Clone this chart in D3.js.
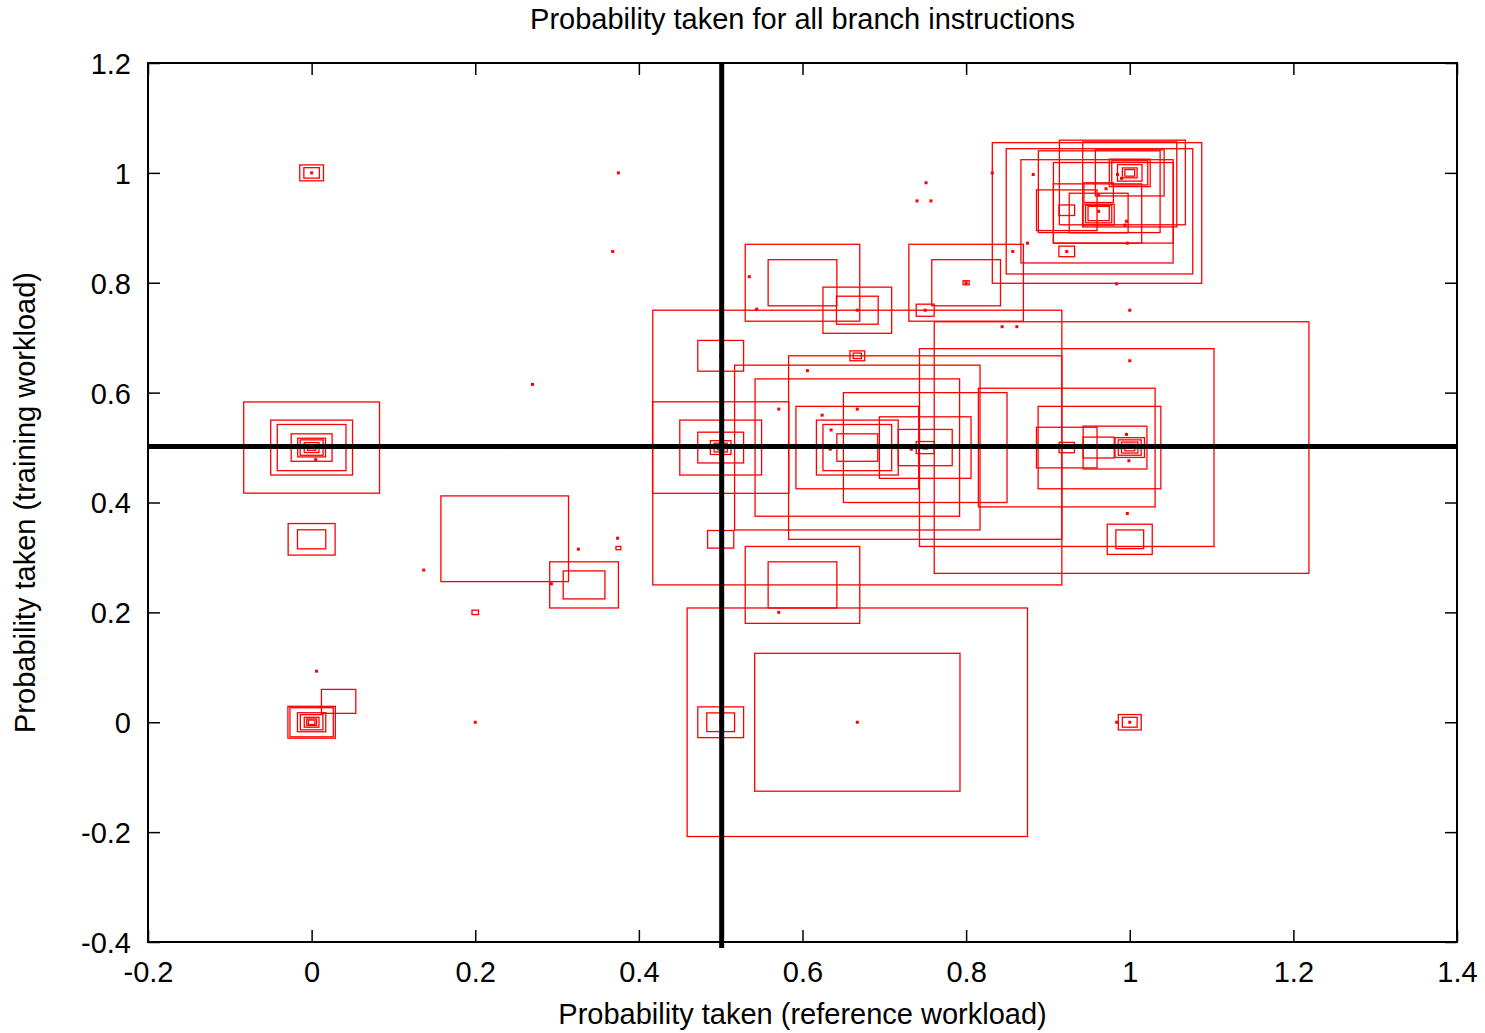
<!DOCTYPE html>
<html>
<head>
<meta charset="utf-8">
<script src="https://cdn.jsdelivr.net/npm/d3@7"></script>
<style>
  html, body { margin: 0; padding: 0; background: #fff; }
  svg { display: block; }
  text { font-family: "Liberation Sans", Arial, sans-serif; fill: #000; }
</style>
</head>
<body>
<svg id="chart" width="1485" height="1033"></svg>
<script>
// ---------------- DATA ----------------
const title = "Probability taken for all branch instructions";
const xLabel = "Probability taken (reference workload)";
const yLabel = "Probability taken (training workload)";
const xTicks = [-0.2, 0, 0.2, 0.4, 0.6, 0.8, 1, 1.2, 1.4];
const yTicks = [-0.4, -0.2, 0, 0.2, 0.4, 0.6, 0.8, 1, 1.2];
const refLines = [0.5]; // thick reference lines at x=0.5 and y=0.5

// boxes: centre x, centre y, half-width dx, half-height dy
const boxX = [
  0, 0, 0, 0, 0, 0, 0, 0, 0, 0, 0, 0,
  0, 0, 0, 0, 0, 0, 0, 0.033, 0.2, 0.236, 0.333, 0.333, 0.375,
  0.5, 0.5, 0.5, 0.5, 0.5, 0.5, 0.5, 0.5, 0.5, 0.5,
  0.667, 0.667, 0.667, 0.667, 0.667, 0.667, 0.667, 0.667, 0.667, 0.667, 0.667,
  0.6, 0.6, 0.667, 0.667, 0.6, 0.6,
  0.75, 0.75, 0.75, 0.75, 0.75, 0.75, 0.75, 0.8, 0.8, 0.8,
  0.923, 0.99, 0.923, 0.963, 0.923, 0.982, 0.962, 0.923, 1, 1, 1, 1, 1, 1, 1, 1,
  0.96, 0.963, 0.96, 0.9606, 0.962, 0.9627, 0.991, 1.0, 0.98, 1, 1, 1, 1, 1, 1,
  0.962, 0.962, 0.962, 0.962, 0.923, 0.923, 0.923
];
const boxY = [
  1, 1, 0.5, 0.5, 0.5, 0.5, 0.5, 0.5, 0.5, 0.5, 0.333, 0.333,
  0, 0, 0, 0, 0, 0, 0, 0.038, 0.2, 0.334, 0.25, 0.25, 0.317,
  0.5, 0.5, 0.5, 0.5, 0.5, 0.5, 0.667, 0.333, 0, 0,
  0.5, 0.5, 0.5, 0.5, 0.5, 0.5, 0.5, 0.667, 0.667, 0, 0,
  0.8, 0.8, 0.75, 0.75, 0.25, 0.25,
  0.5, 0.5, 0.5, 0.5, 0.5, 0.5, 0.75, 0.8, 0.8, 0.8,
  0.5, 0.5, 0.5, 0.5, 0.5, 0.5, 0.5, 0.5, 0.5, 0.5, 0.5, 0.5, 0.333, 0.333, 0, 0,
  0.927, 0.93, 0.93, 0.926, 0.927, 0.9657, 0.9825, 0.979, 0.9455, 1, 1, 1, 1, 1, 1,
  0.964, 0.924, 0.925, 0.926, 0.932, 0.932, 0.857
];
const boxDX = [
  0.0145, 0.0095, 0.083, 0.05, 0.042, 0.025, 0.017, 0.014, 0.009, 0.005, 0.0287, 0.0173,
  0.029, 0.0265, 0.0173, 0.0138, 0.009, 0.006, 0.004, 0.021, 0.004, 0.078, 0.042, 0.0255, 0.003,
  0.0833, 0.05, 0.028, 0.0126, 0.008, 0.004, 0.028, 0.016, 0.028, 0.017,
  0.25, 0.15, 0.125, 0.075, 0.05, 0.042, 0.025, 0.009, 0.005, 0.208, 0.1255,
  0.07, 0.042, 0.042, 0.0255, 0.07, 0.042,
  0.167, 0.1, 0.056, 0.033, 0.011, 0.0025, 0.011, 0.07, 0.042, 0.0037,
  0.18, 0.229, 0.108, 0.075, 0.037, 0.039, 0.019, 0.0094, 0.018, 0.014, 0.01, 0.006, 0.0275, 0.017, 0.014, 0.009,
  0.128, 0.114, 0.093, 0.054, 0.036, 0.0744, 0.077, 0.0575, 0.0733, 0.042, 0.025, 0.022, 0.015, 0.009, 0.006,
  0.018, 0.019, 0.016, 0.013, 0.037, 0.0096, 0.0096
];
const boxDY = [
  0.0145, 0.0095, 0.083, 0.05, 0.042, 0.025, 0.017, 0.014, 0.009, 0.005, 0.0287, 0.0173,
  0.029, 0.0265, 0.0173, 0.0138, 0.009, 0.006, 0.004, 0.0218, 0.004, 0.078, 0.042, 0.0255, 0.003,
  0.0833, 0.05, 0.028, 0.0126, 0.008, 0.004, 0.028, 0.016, 0.028, 0.017,
  0.25, 0.15, 0.125, 0.075, 0.05, 0.042, 0.025, 0.009, 0.005, 0.208, 0.1255,
  0.07, 0.042, 0.042, 0.0255, 0.07, 0.042,
  0.167, 0.1, 0.056, 0.033, 0.011, 0.0025, 0.011, 0.07, 0.042, 0.0037,
  0.18, 0.229, 0.108, 0.075, 0.037, 0.039, 0.019, 0.0094, 0.018, 0.014, 0.01, 0.006, 0.0275, 0.017, 0.014, 0.009,
  0.128, 0.114, 0.094, 0.054, 0.036, 0.0744, 0.077, 0.0774, 0.0733, 0.042, 0.025, 0.022, 0.015, 0.009, 0.006,
  0.018, 0.019, 0.016, 0.013, 0.037, 0.0096, 0.0096
];

// single points (zero-size boxes)
const dotX = [
  0, 0.375, 0.368, 0.27, 0.005, 0.006, 0.2, 0.137, 0.293, 0.326, 0.374,
  0.535, 0.544, 0.606, 0.571, 0.667, 0.624, 0.635, 0.634, 0.733, 0.571, 0.667, 0.5,
  0.667, 0.75, 0.8, 0.996, 0.999, 1.0, 1.0, 0.997, 0.844, 0.862, 0.857, 0.875,
  0.882, 0.971, 0.985, 0.99, 0.994, 0.996, 0.997, 0.923, 0.751, 0.74, 0.757, 0.984,
  0.984, 1, 0.5, 0.667, 0.5, 1, 0.962, 0.243, 0.832, 0.962
];
const dotY = [
  1, 1.0, 0.857, 0.615, 0.478, 0.093, 0, 0.277, 0.252, 0.315, 0.335,
  0.811, 0.752, 0.64, 0.57, 0.57, 0.559, 0.532, 0.497, 0.497, 0.2, 0, 0,
  0.75, 0.75, 0.8, 0.524, 0.476, 0.75, 0.658, 0.38, 0.72, 0.72, 0.857, 0.872,
  0.997, 0.971, 0.997, 0.99, 0.905, 0.912, 0.872, 0.857, 0.982, 0.949, 0.949, 0.798,
  0, 0, 0.667, 0.5, 0.5, 0.5, 0.93, 0.5, 1.0, 0.96
];

// ---------------- DRAW ----------------
const W = 1485, H = 1033;
const L = 148, R = 1457, T = 63, B = 942;
const svg = d3.select("#chart");
const x = d3.scaleLinear().domain([-0.2, 1.4]).range([L, R]);
const y = d3.scaleLinear().domain([-0.4, 1.2]).range([B, T]);
const fmt = d => String(+d.toFixed(1));
const FS = 29;

svg.append("defs").append("clipPath").attr("id", "plotclip")
  .append("rect").attr("x", L).attr("y", T).attr("width", R - L).attr("height", B - T);

const boxes = boxX.map((cx, i) => ({ cx, cy: boxY[i], dx: boxDX[i], dy: boxDY[i] }));
const dots = dotX.map((cx, i) => ({ cx, cy: dotY[i] }));

const plot = svg.append("g").attr("clip-path", "url(#plotclip)");

plot.selectAll("rect.box").data(boxes).join("rect")
  .attr("class", "box")
  .attr("x", d => x(d.cx - d.dx))
  .attr("y", d => y(d.cy + d.dy))
  .attr("width", d => x(d.cx + d.dx) - x(d.cx - d.dx))
  .attr("height", d => y(d.cy - d.dy) - y(d.cy + d.dy))
  .attr("fill", "none")
  .attr("stroke", "#ff0000")
  .attr("stroke-width", 1.3);

plot.selectAll("rect.dot").data(dots).join("rect")
  .attr("class", "dot")
  .attr("x", d => x(d.cx) - 1.5)
  .attr("y", d => y(d.cy) - 1.5)
  .attr("width", 3)
  .attr("height", 3)
  .attr("fill", "#ff0000");

// thick reference lines
refLines.forEach(v => {
  svg.append("line")
    .attr("x1", L).attr("x2", R)
    .attr("y1", y(v) - 1).attr("y2", y(v) - 1)
    .attr("stroke", "#000").attr("stroke-width", 5);
  svg.append("line")
    .attr("x1", x(v) + 1).attr("x2", x(v) + 1)
    .attr("y1", T).attr("y2", B + 6)
    .attr("stroke", "#000").attr("stroke-width", 5);
});

// axes with inward ticks (mirrored)
const tickLen = 12;
const axB = svg.append("g").attr("transform", `translate(0,${B})`)
  .call(d3.axisBottom(x).tickValues(xTicks).tickFormat(fmt).tickSize(-tickLen).tickPadding(0));
const axT = svg.append("g").attr("transform", `translate(0,${T})`)
  .call(d3.axisTop(x).tickValues(xTicks).tickFormat("").tickSize(-tickLen));
const axL = svg.append("g").attr("transform", `translate(${L},0)`)
  .call(d3.axisLeft(y).tickValues(yTicks).tickFormat(fmt).tickSize(-tickLen).tickPadding(0));
const axR = svg.append("g").attr("transform", `translate(${R},0)`)
  .call(d3.axisRight(y).tickValues(yTicks).tickFormat("").tickSize(-tickLen));

[axB, axT, axL, axR].forEach(g => {
  g.select(".domain").remove();
  g.selectAll(".tick line").attr("stroke", "#000").attr("stroke-width", 1.5);
});
axB.selectAll(".tick text")
  .attr("y", 40).attr("dy", null)
  .attr("font-size", FS).attr("font-family", "Liberation Sans, Arial, sans-serif")
  .attr("fill", "#000");
axL.selectAll(".tick text")
  .attr("x", -17).attr("dy", "0.36em")
  .attr("font-size", FS).attr("font-family", "Liberation Sans, Arial, sans-serif")
  .attr("fill", "#000");

// frame
svg.append("rect")
  .attr("x", L).attr("y", T).attr("width", R - L).attr("height", B - T)
  .attr("fill", "none").attr("stroke", "#000").attr("stroke-width", 2);

// titles
svg.append("text").attr("x", (L + R) / 2).attr("y", 29)
  .attr("text-anchor", "middle").attr("font-size", FS).text(title);
svg.append("text").attr("x", (L + R) / 2).attr("y", 1024)
  .attr("text-anchor", "middle").attr("font-size", FS).text(xLabel);
svg.append("text")
  .attr("transform", `translate(35,${(T + B) / 2}) rotate(-90)`)
  .attr("text-anchor", "middle").attr("font-size", FS).text(yLabel);
</script>
</body>
</html>
